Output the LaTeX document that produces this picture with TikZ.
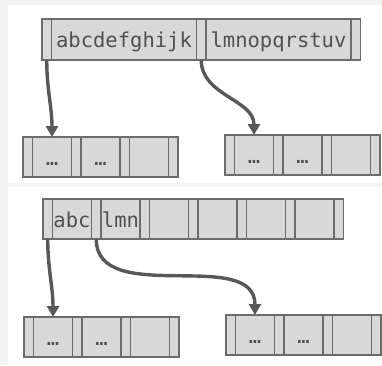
\documentclass[tikz,border=0pt]{standalone}
\usepackage{fontspec}
\setmonofont{DejaVu Sans Mono}
\usetikzlibrary{positioning,arrows.meta}

\definecolor{panelbg}{RGB}{244,244,244}
\definecolor{cellgray}{RGB}{216,216,216}
\definecolor{edgegray}{RGB}{108,108,108}
\definecolor{ptrgray}{RGB}{88,88,88}
\definecolor{textgray}{RGB}{80,80,80}

\begin{document}
\begin{tikzpicture}[x=1pt,y=-1pt,
    cellbase/.style={rectangle, draw=edgegray, fill=cellgray, line width=1.6pt,
      inner sep=0pt, outer sep=0pt, anchor=north west, minimum height=40pt,
      text height=18pt, text depth=2pt,
      text=textgray, font=\ttfamily\fontsize{20.5}{24}\selectfont},
    slot/.style={cellbase, minimum width=9.5pt},
    keycell/.style={cellbase, minimum width=39pt},
    ptr/.style={draw=ptrgray, line width=3.4pt, -{Triangle[length=11pt,width=12pt]}}]

    \useasboundingbox (0,0) rectangle (382,365);
    \fill[panelbg] (0,0) rectangle (382,365);
    \fill[white] (8,5) rectangle (382,183);
    \fill[white] (8,187) rectangle (382,365);

    % top: long keys
    \node[slot, minimum height=41pt] (root0) at (42,19) {};
    \node[keycell, minimum height=41pt, minimum width=145pt, right=0pt of root0] (root1) {abcdefghijk};
    \node[slot, minimum height=41pt, right=0pt of root1] (root2) {};
    \node[keycell, minimum height=41pt, minimum width=145pt, right=0pt of root2] (root3) {lmnopqrstuv};
    \node[slot, minimum height=41pt, right=0pt of root3] (root4) {};

    \node[slot] (tl0) at (23,137) {};
    \node[keycell, right=0pt of tl0] (tl1) {…};
    \node[slot, right=0pt of tl1] (tl2) {};
    \node[keycell, right=0pt of tl2] (tl3) {…};
    \node[slot, right=0pt of tl3] (tl4) {};
    \node[keycell, right=0pt of tl4] (tl5) {};
    \node[slot, right=0pt of tl5] (tl6) {};

    \node[slot] (tr0) at (225,135) {};
    \node[keycell, right=0pt of tr0] (tr1) {…};
    \node[slot, right=0pt of tr1] (tr2) {};
    \node[keycell, right=0pt of tr2] (tr3) {…};
    \node[slot, right=0pt of tr3] (tr4) {};
    \node[keycell, right=0pt of tr4] (tr5) {};
    \node[slot, right=0pt of tr5] (tr6) {};

    \draw[ptr] (root0.south) to[out=-90,in=90] (tl1.north);
    \draw[ptr] (root2.south) to[out=-90,in=90] (tr1.north);

    % bottom: short keys
    \node[slot] (broot0) at (43,199) {};
    \node[keycell, right=0pt of broot0] (broot1) {abc};
    \node[slot, right=0pt of broot1] (broot2) {};
    \node[keycell, right=0pt of broot2] (broot3) {lmn};
    \node[slot, right=0pt of broot3] (broot4) {};
    \node[keycell, right=0pt of broot4] (broot5) {};
    \node[slot, right=0pt of broot5] (broot6) {};
    \node[keycell, right=0pt of broot6] (broot7) {};
    \node[slot, right=0pt of broot7] (broot8) {};
    \node[keycell, right=0pt of broot8] (broot9) {};
    \node[slot, right=0pt of broot9] (broot10) {};
    \node[keycell, right=0pt of broot10] (broot11) {};
    \node[slot, right=0pt of broot11] (broot12) {};

    \node[slot] (bl0) at (24,317) {};
    \node[keycell, right=0pt of bl0] (bl1) {…};
    \node[slot, right=0pt of bl1] (bl2) {};
    \node[keycell, right=0pt of bl2] (bl3) {…};
    \node[slot, right=0pt of bl3] (bl4) {};
    \node[keycell, right=0pt of bl4] (bl5) {};
    \node[slot, right=0pt of bl5] (bl6) {};

    \node[slot] (br0) at (226,315) {};
    \node[keycell, right=0pt of br0] (br1) {…};
    \node[slot, right=0pt of br1] (br2) {};
    \node[keycell, right=0pt of br2] (br3) {…};
    \node[slot, right=0pt of br3] (br4) {};
    \node[keycell, right=0pt of br4] (br5) {};
    \node[slot, right=0pt of br5] (br6) {};

    \draw[ptr] (broot0.south) to[out=-90,in=90] (bl1.north);
    \draw[ptr] (broot2.south) to[out=-90,in=90] (br1.north);

\end{tikzpicture}
\end{document}
